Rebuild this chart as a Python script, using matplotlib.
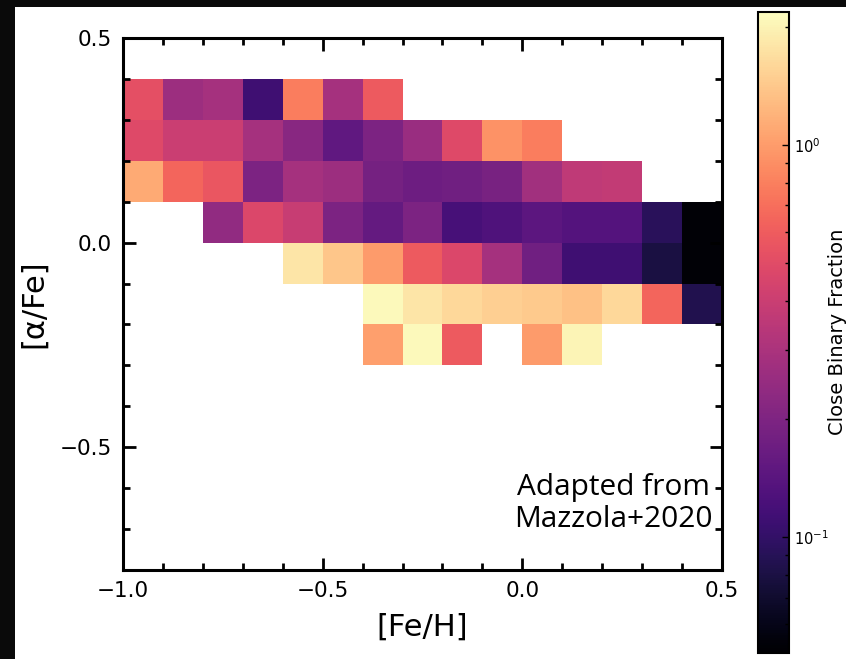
import numpy as np
import matplotlib
matplotlib.use("Agg")
import matplotlib.pyplot as plt
from matplotlib.colors import LogNorm
from matplotlib.patches import Rectangle
from matplotlib.ticker import MultipleLocator

# --------- binned close binary fraction in the [Fe/H] - [alpha/Fe] plane -----------
feh_edges = np.round(np.arange(-1.0, 0.51, 0.1), 2)
afe_edges = np.round(np.arange(-0.3, 0.41, 0.1), 2)

nan = np.nan
# one list per [alpha/Fe] row, from -0.3 up to 0.3 (lower bin edge), 15 [Fe/H] bins each
row_m03 = [nan, nan, nan, nan, nan, nan, 1.03, 2.10, 0.583, nan, 0.988, 2.02, nan, nan, nan]
row_m02 = [nan, nan, nan, nan, nan, nan, 2.10, 1.80, 1.61, 1.50, 1.44, 1.34, 1.61, 0.653, 0.0857]
row_m01 = [nan, nan, nan, nan, 1.80, 1.39, 0.988, 0.583, 0.466, 0.286, 0.175, 0.111, 0.111, 0.0794, 0.0525]
row_p00 = [nan, nan, 0.237, 0.466, 0.386, 0.196, 0.156, 0.196, 0.120, 0.129, 0.145, 0.135, 0.135, 0.0923, 0.0525]
row_p01 = [1.11, 0.653, 0.562, 0.196, 0.286, 0.265, 0.182, 0.169, 0.175, 0.189, 0.275, 0.358, 0.372, nan, nan]
row_p02 = [0.483, 0.401, 0.401, 0.286, 0.219, 0.151, 0.196, 0.255, 0.483, 0.917, 0.789, nan, nan, nan, nan]
row_p03 = [0.521, 0.265, 0.286, 0.111, 0.789, 0.286, 0.583, nan, nan, nan, nan, nan, nan, nan, nan]

frac = np.ma.masked_invalid(np.array([row_m03, row_m02, row_m01, row_p00, row_p01, row_p02, row_p03]))

fig = plt.figure(figsize=(8.46, 6.59), dpi=100, facecolor="#0a0a0a")
fig.patches.append(Rectangle((15 / 846, 0), 1, 1 - 7 / 659, transform=fig.transFigure,
                             facecolor="white", edgecolor="none", zorder=-10))

ax = fig.add_axes([0.1454, 0.135, 0.708, 0.8073])
norm = LogNorm(vmin=0.0506, vmax=2.18)
mesh = ax.pcolormesh(feh_edges, afe_edges, frac, cmap="magma", norm=norm)

ax.set_xlim(-1.0, 0.5)
ax.set_ylim(-0.8, 0.5)
ax.xaxis.set_major_locator(MultipleLocator(0.5))
ax.xaxis.set_minor_locator(MultipleLocator(0.1))
ax.yaxis.set_major_locator(MultipleLocator(0.5))
ax.yaxis.set_minor_locator(MultipleLocator(0.1))
ax.tick_params(which="both", direction="in", top=True, right=True, width=2)
ax.tick_params(which="major", length=9, labelsize=15.5, pad=8)
ax.tick_params(which="minor", length=5)
for sp in ax.spines.values():
    sp.set_linewidth(2.2)

ax.set_xlabel("[Fe/H]", fontsize=22, labelpad=8)
ax.set_ylabel("[\u03b1/Fe]", fontsize=22, labelpad=8)

ax.text(0.818, 0.068, "Adapted from\nMazzola+2020", transform=ax.transAxes,
        ha="center", va="bottom", fontsize=21.5, family="Open Sans", linespacing=1.15)

cax = fig.add_axes([0.896, 0.0091, 0.0366, 0.9727])
cb = fig.colorbar(mesh, cax=cax)
cb.outline.set_linewidth(1.5)
cax.tick_params(which="both", direction="in", labelsize=10.5)
cax.tick_params(which="major", length=5, width=1)
cax.tick_params(which="minor", length=3, width=1)
fig.text(837 / 846, 0.497, "Close Binary Fraction", rotation=90, ha="center", va="center",
         fontsize=14)

fig.savefig("out.png", dpi=100, facecolor=fig.get_facecolor())
